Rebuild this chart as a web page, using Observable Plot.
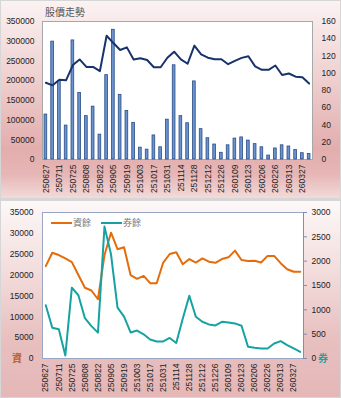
<!DOCTYPE html>
<html><head><meta charset="utf-8">
<script src="https://cdn.jsdelivr.net/npm/d3@7"></script>
<script src="https://cdn.jsdelivr.net/npm/@observablehq/plot@0.6"></script>
<style>
body{margin:0;background:#fff;}
#wrap{position:relative;width:341px;height:398px;overflow:hidden;background:#d6d6d6;font-family:"Liberation Sans",Arial,sans-serif;}
#bg1{position:absolute;left:1px;top:1px;width:339px;height:197px;background:linear-gradient(180deg,#fbf2f2 0%,#efcfcf 40%,#e3adad 75%,#e6b6b6 88%,#f3dada 100%);}
#bg2{position:absolute;left:1px;top:201px;width:339px;height:196px;background:linear-gradient(180deg,#fdf8f8 0%,#f3dddd 35%,#e8c0c0 70%,#e5b7b7 100%);}
.layer{position:absolute;left:0;}
#title{position:absolute;left:45px;top:4px;font:10px "Noto Sans CJK TC",sans-serif;color:#555;}
#legend{position:absolute;left:51px;top:216px;font:9px "Noto Sans CJK TC",sans-serif;color:#777;display:flex;align-items:center;}
#legend .sw{display:inline-block;width:21px;height:2px;margin-right:1px;}
#legend .it{display:flex;align-items:center;margin-right:10px;}
#ziL{position:absolute;left:12px;top:350px;font:bold 10px "Noto Sans CJK TC",sans-serif;color:#b8611d;}
#ziR{position:absolute;left:318px;top:350px;font:bold 10px "Noto Sans CJK TC",sans-serif;color:#1aa3a3;}
</style></head>
<body>
<div id="wrap">
  <div id="bg1"></div><div id="bg2"></div>
</div>
<script>
const dates = ["250627","250704","250711","250718","250725","250801","250808","250815","250822","250829",
  "250905","250912","250919","250926","251003","251009","251017","251024","251031","251107",
  "251114","251121","251128","251205","251212","251219","251226","260102","260109","260116",
  "260123","260130","260206","260211","260226","260306","260313","260320","260327","260402"];
const volume = [114000,299000,199000,86000,302000,169000,110000,134000,63000,214000,
  329000,164000,123000,93000,30000,25000,61000,31000,101000,239000,
  110000,92000,198000,77000,54000,38000,17000,36000,53000,56000,
  48000,39000,31000,10000,28000,36000,33000,24000,16000,14000];
const price = [89,86,92.5,92,109.5,116,107.3,107.3,102.5,143.5,
  135,127,130,116,117.4,115.3,107,107,118,125,
  116,111,132,122,118,116.3,116.3,110.5,114.4,117.8,
  119.7,108,104,104,109,98,99.7,96,95.4,88];
const marginBal = [22150,25350,24800,24000,23100,20000,16950,16300,14200,24800,
  30150,26200,26650,20000,19100,19800,18050,18050,23000,25050,
  25450,22600,23850,23000,24000,23200,22950,23850,24250,25850,
  23600,23400,23450,23000,24600,24600,22850,21400,20800,20800];
const shortBal = [1095,630,600,62,1455,1300,828,666,532,2710,
  2140,1046,862,535,575,498,392,350,350,422,
  320,824,1291,858,755,700,680,755,741,721,
  673,240,220,206,206,309,357,275,206,137];
const xTicks = dates.filter((d,i)=>i%2===0);
const volTicks = [0,50000,100000,150000,200000,250000,300000,350000];
const priceTicks = [0,20,40,60,80,100,120,140,160];
const marginTicks = [0,5000,10000,15000,20000,25000,30000,35000];
const shortTicks = [0,500,1000,1500,2000,2500,3000];
const seriesNames = ["資餘","券餘"];
const title = "股價走勢";

const table = dates.map((d,i)=>({date:d, volume:volume[i], price:price[i], margin:marginBal[i], short:shortBal[i]}));
const font = '"Liberation Sans",Arial,sans-serif';
const st = {background:"transparent", fontFamily:font, fontSize:"8.5px", color:"#222", overflow:"visible"};
const wrap = document.getElementById("wrap");
const fmt = d => String(d);
function add(svg, top){ svg.classList.add("layer"); svg.style.top = top+"px"; wrap.appendChild(svg); }

// top panel
const topDims = {width:341, height:199, marginTop:21, marginBottom:40, marginLeft:42, marginRight:29};
const xTop = {type:"band", domain:dates, paddingInner:0.6, paddingOuter:0.3, round:false};
add(Plot.plot({...topDims, style:st,
  x:{...xTop, label:null}, y:{domain:[0,350000], label:null},
  marks:[
    Plot.frame({fill:"white", stroke:"#a8a8a8"}),
    Plot.barY(table,{x:"date", y:"volume", fill:"#6a93cf", stroke:"#2a4c85", strokeWidth:0.8}),
    Plot.axisY(volTicks,{anchor:"left", tickSize:0, tickPadding:8, fontSize:8.5, label:null, tickFormat:fmt}),
    Plot.axisX(xTicks,{anchor:"bottom", tickSize:0, tickRotate:-90, tickPadding:5, fontSize:8.5, label:null})
  ]}), 0);
add(Plot.plot({...topDims, style:st,
  x:{...xTop, axis:null}, y:{domain:[0,160], label:null},
  marks:[
    Plot.lineY(table,{x:"date", y:"price", stroke:"#17336b", strokeWidth:2}),
    Plot.axisY(priceTicks,{anchor:"right", tickSize:0, tickPadding:9, fontSize:8.5, label:null, tickFormat:fmt})
  ]}), 0);

// bottom panel
const botDims = {width:341, height:197, marginTop:11, marginBottom:40, marginLeft:42, marginRight:38};
const xBot = {type:"point", domain:dates, padding:0.5, round:false};
add(Plot.plot({...botDims, style:st,
  x:{...xBot, label:null}, y:{domain:[0,35000], label:null},
  marks:[
    Plot.frame({fill:"white", stroke:"#9aa6c4"}),
    Plot.lineY(table,{x:"date", y:"margin", stroke:"#e46c0a", strokeWidth:2}),
    Plot.axisY(marginTicks,{anchor:"left", tickSize:0, tickPadding:9, fontSize:8.5, label:null, tickFormat:fmt}),
    Plot.axisX(xTicks,{anchor:"bottom", tickSize:0, tickRotate:-90, tickPadding:5, fontSize:8.5, label:null})
  ]}), 201);
add(Plot.plot({...botDims, style:st,
  x:{...xBot, axis:null}, y:{domain:[0,3000], label:null},
  marks:[
    Plot.lineY(table,{x:"date", y:"short", stroke:"#17a2a2", strokeWidth:2}),
    Plot.frame({anchor:"right", stroke:"#7c8fb5"}),
    Plot.axisY(shortTicks,{anchor:"right", tickSize:3, tickPadding:5, stroke:"#7c8fb5", fontSize:8.5, label:null, tickFormat:fmt})
  ]}), 201);

// HTML texts
const t = document.createElement("div"); t.id="title"; t.textContent = title; wrap.appendChild(t);
const lg = document.createElement("div"); lg.id="legend";
lg.innerHTML = `<span class="it"><span class="sw" style="background:#e46c0a"></span>${seriesNames[0]}</span><span class="it"><span class="sw" style="background:#17a2a2"></span>${seriesNames[1]}</span>`;
wrap.appendChild(lg);
const zl = document.createElement("div"); zl.id="ziL"; zl.textContent = seriesNames[0][0]; wrap.appendChild(zl);
const zr = document.createElement("div"); zr.id="ziR"; zr.textContent = seriesNames[1][0]; wrap.appendChild(zr);
</script>
</body></html>
